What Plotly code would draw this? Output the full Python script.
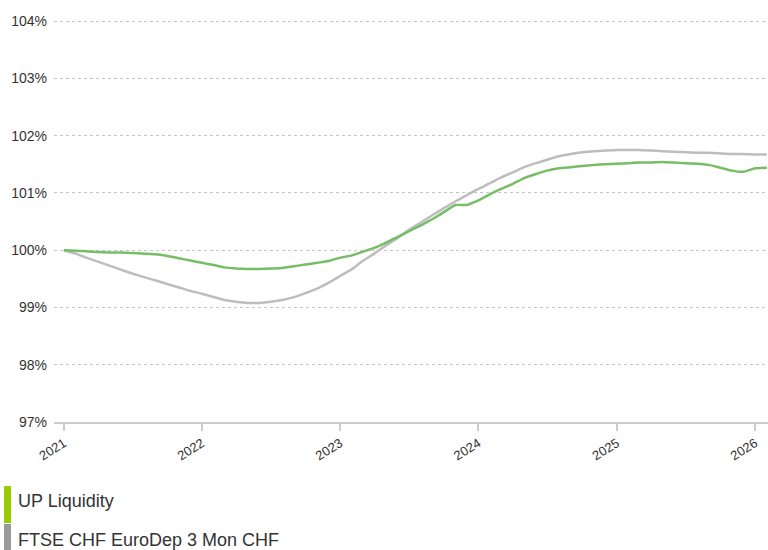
import pandas as pd
import plotly.graph_objects as go

dates = [d.strftime("%Y-%m-%d") for d in pd.date_range("2021-01-01", "2026-02-01", freq="MS")]
up_liquidity = [
    100.00, 99.99, 99.98, 99.97, 99.96, 99.96, 99.95, 99.94, 99.93, 99.90, 99.86, 99.82,
    99.78, 99.74, 99.70, 99.68, 99.67, 99.67, 99.68, 99.69, 99.72, 99.75, 99.78, 99.81,
    99.87, 99.91, 99.97, 100.04, 100.13, 100.23, 100.33, 100.43, 100.54, 100.66, 100.79, 100.79,
    100.87, 100.98, 101.07, 101.16, 101.26, 101.33, 101.39, 101.43, 101.45, 101.47, 101.49, 101.50,
    101.51, 101.52, 101.53, 101.53, 101.54, 101.53, 101.52, 101.51, 101.49, 101.44, 101.39, 101.37,
    101.43, 101.44,
]
ftse_dep = [
    100.00, 99.94, 99.87, 99.80, 99.73, 99.66, 99.59, 99.53, 99.47, 99.41, 99.35, 99.29,
    99.24, 99.18, 99.13, 99.10, 99.08, 99.08, 99.10, 99.13, 99.18, 99.25, 99.33, 99.43,
    99.55, 99.67, 99.81, 99.94, 100.08, 100.21, 100.35, 100.48, 100.61, 100.73, 100.85, 100.96,
    101.07, 101.17, 101.27, 101.36, 101.45, 101.52, 101.58, 101.64, 101.68, 101.71, 101.73, 101.74,
    101.75, 101.75, 101.75, 101.74, 101.73, 101.72, 101.71, 101.70, 101.70, 101.69, 101.68, 101.68,
    101.67, 101.67,
]
y_ticks = [97, 98, 99, 100, 101, 102, 103, 104]
y_tick_labels = ["97%", "98%", "99%", "100%", "101%", "102%", "103%", "104%"]
x_ticks = ["2021-01-01", "2022-01-01", "2023-01-01", "2024-01-01", "2025-01-01", "2026-01-01"]
x_tick_labels = ["2021", "2022", "2023", "2024", "2025", "2026"]
series_names = ["UP Liquidity", "FTSE CHF EuroDep 3 Mon CHF"]

FONT = "Liberation Sans, Arial, sans-serif"

fig = go.Figure()
fig.add_trace(go.Scatter(x=dates, y=ftse_dep, mode="lines", name=series_names[1],
                         line=dict(color="#bdbdbd", width=2.5, shape="spline", smoothing=0.5),
                         showlegend=False))
fig.add_trace(go.Scatter(x=dates, y=up_liquidity, mode="lines", name=series_names[0],
                         line=dict(color="#77bd66", width=2.5, shape="spline", smoothing=0.3),
                         showlegend=False))

# custom legend: coloured bars + text
L, R, T, B = 54, 0, 20, 128
W, H = 768 - L - R, 550 - T - B

def px_x(x):
    return (x - L) / W

def px_y(y):
    return (550 - B - y) / H

fig.add_shape(type="rect", xref="paper", yref="paper", x0=px_x(4), x1=px_x(11),
              y0=px_y(523), y1=px_y(486), fillcolor="#99cc00", line_width=0)
fig.add_shape(type="rect", xref="paper", yref="paper", x0=px_x(4), x1=px_x(11),
              y0=px_y(560), y1=px_y(524), fillcolor="#999999", line_width=0)
fig.add_annotation(xref="paper", yref="paper", x=px_x(16), y=px_y(501), text=series_names[0],
                   showarrow=False, xanchor="left", yanchor="middle",
                   font=dict(family=FONT, size=18, color="#333333"))
fig.add_annotation(xref="paper", yref="paper", x=px_x(16), y=px_y(540), text=series_names[1],
                   showarrow=False, xanchor="left", yanchor="middle",
                   font=dict(family=FONT, size=18, color="#333333"))

fig.update_layout(
    width=768, height=550,
    margin=dict(l=L, r=R, t=T, b=B, pad=0),
    paper_bgcolor="white", plot_bgcolor="white",
    font=dict(family=FONT, color="#333333"),
    xaxis=dict(
        range=["2020-12-06", "2026-02-04"],
        tickvals=x_ticks, ticktext=x_tick_labels, tickangle=-32,
        showgrid=False, zeroline=False,
        showline=True, linecolor="#cccccc", linewidth=1.5,
        ticks="outside", ticklen=7, tickcolor="#cccccc", tickwidth=1.5,
        tickfont=dict(size=13, color="#333333"),
    ),
    yaxis=dict(
        range=[97, 104.02],
        tickvals=y_ticks, ticktext=y_tick_labels,
        showgrid=True, gridcolor="#c4c4c4", griddash="3px,3px", gridwidth=1,
        zeroline=False, showline=False, ticks="",
        ticklabelstandoff=6,
        tickfont=dict(size=14, color="#333333"),
    ),
)

fig.write_html("out.html", config={"displayModeBar": False},
               post_script="document.body.style.margin='0px';")
